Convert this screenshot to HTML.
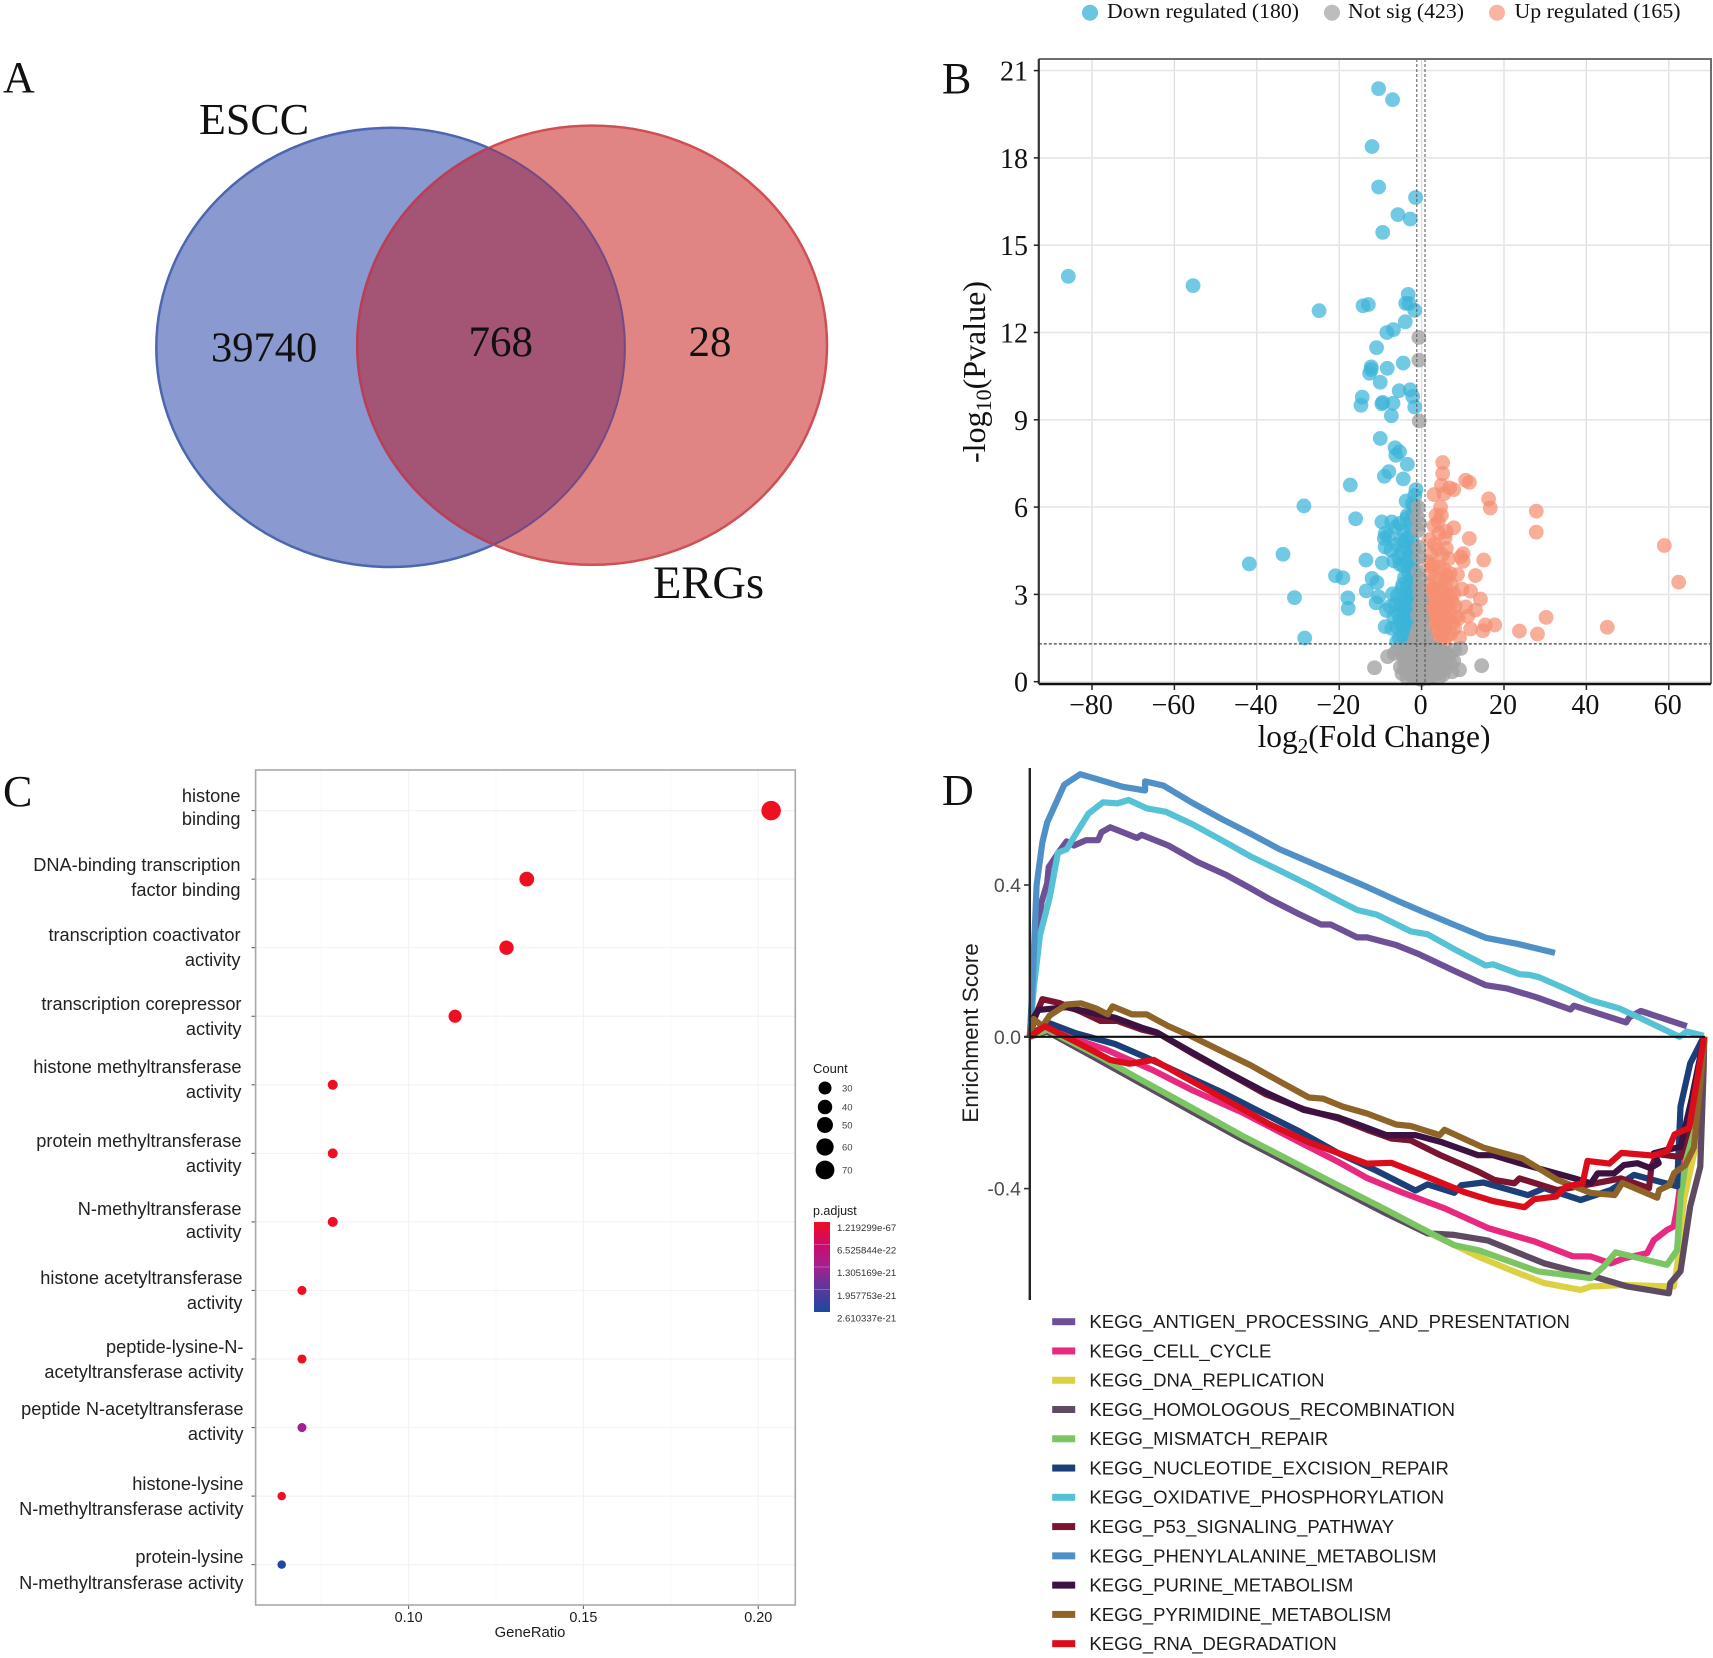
<!DOCTYPE html>
<html lang="en">
<head>
<meta charset="utf-8">
<title>ESCC ERG analysis figure</title>
<style>
html,body{margin:0;padding:0;background:#fff;width:1713px;height:1658px;overflow:hidden}
svg{display:block}
.serif{font-family:"Liberation Serif",serif;fill:#111}
.sans{font-family:"Liberation Sans",sans-serif;fill:#1c1c1c}
.panel{font-family:"Liberation Serif",serif;font-size:44px;fill:#111}
.go{font-family:"Liberation Sans",sans-serif;font-size:18.2px;fill:#222;text-anchor:end}
.lg{font-family:"Liberation Sans",sans-serif;font-size:18.5px;fill:#1c1c1c}
</style>
</head>
<body>
<svg id="figure" xmlns="http://www.w3.org/2000/svg" width="1713" height="1658" viewBox="0 0 1713 1658">
<defs>
<clipPath id="blueClip"><ellipse cx="390.6" cy="347.4" rx="234.3" ry="219.6"/></clipPath>
<clipPath id="redClip"><ellipse cx="592.1" cy="345.2" rx="234.9" ry="219.6"/></clipPath>
<linearGradient id="padjGrad" x1="0" y1="0" x2="0" y2="1">
<stop offset="0" stop-color="#ee0f21"/><stop offset="0.25" stop-color="#cf0a6b"/><stop offset="0.5" stop-color="#a3208f"/><stop offset="0.75" stop-color="#58399a"/><stop offset="1" stop-color="#1c48a1"/>
</linearGradient>
</defs>
<rect x="0" y="0" width="1713" height="1658" fill="#fff"/>

<!-- Panel A -->
<g id="panelA">
<text class="panel" x="3" y="92">A</text>
<ellipse cx="390.6" cy="347.4" rx="234.3" ry="219.6" fill="#8a99cf" stroke="#4d66b0" stroke-width="2.5"/>
<ellipse cx="592.1" cy="345.2" rx="234.9" ry="219.6" fill="#e08584" stroke="#cf4f55" stroke-width="2.5"/>
<ellipse cx="592.1" cy="345.2" rx="234.9" ry="219.6" fill="#a45474" stroke="#b83f58" stroke-width="2.5" clip-path="url(#blueClip)"/>
<ellipse cx="390.6" cy="347.4" rx="234.3" ry="219.6" fill="none" stroke="#744a86" stroke-width="2" clip-path="url(#redClip)"/>
<text class="serif" x="199" y="134" font-size="44">ESCC</text>
<text class="serif" x="653" y="598" font-size="46.5">ERGs</text>
<text class="serif" x="211" y="361.5" font-size="42.5">39740</text>
<text class="serif" x="468.5" y="356" font-size="43">768</text>
<text class="serif" x="688.5" y="356" font-size="43">28</text>
</g>

<!-- Panel B static -->
<g id="panelB">
<text class="panel" x="942" y="93">B</text>
<g id="volcanoGrid"></g>
<g id="volcanoPoints"></g>
<g id="volcanoAxes"></g>
<circle cx="1090" cy="12.7" r="8" fill="#6cc5e0"/>
<text class="serif" x="1107" y="18" font-size="21" textLength="192" lengthAdjust="spacingAndGlyphs">Down regulated (180)</text>
<circle cx="1332" cy="12.7" r="8" fill="#bdbdbd"/>
<text class="serif" x="1348" y="18" font-size="21" textLength="116" lengthAdjust="spacingAndGlyphs">Not sig (423)</text>
<circle cx="1497" cy="12.7" r="8" fill="#f9b5a2"/>
<text class="serif" x="1514.5" y="18" font-size="21" textLength="166" lengthAdjust="spacingAndGlyphs">Up regulated (165)</text>
<text class="serif" transform="translate(985,372) rotate(-90)" text-anchor="middle" font-size="32">-log<tspan font-size="22" dy="6">10</tspan><tspan dy="-6">(Pvalue)</tspan></text>
<text class="serif" x="1374" y="747" text-anchor="middle" font-size="31.4">log<tspan font-size="21" dy="6">2</tspan><tspan dy="-6">(Fold Change)</tspan></text>
</g>

<!-- Panel C static -->
<g id="panelC">
<text class="panel" x="3" y="806">C</text>
<g id="dotGrid"></g>
<rect x="255.6" y="770" width="539.7" height="835" fill="none" stroke="#a8a8a8" stroke-width="1.6"/>
<g id="dotMarks"></g>
<g>
<text class="go" x="240.5" y="802">histone</text>
<text class="go" x="240.5" y="825">binding</text>
<text class="go" x="240.5" y="871">DNA-binding transcription</text>
<text class="go" x="240.5" y="896">factor binding</text>
<text class="go" x="240.5" y="941">transcription coactivator</text>
<text class="go" x="240.5" y="966">activity</text>
<text class="go" x="241.5" y="1010">transcription corepressor</text>
<text class="go" x="241.5" y="1035">activity</text>
<text class="go" x="241.5" y="1073">histone methyltransferase</text>
<text class="go" x="241.5" y="1098">activity</text>
<text class="go" x="241.5" y="1147">protein methyltransferase</text>
<text class="go" x="241.5" y="1172">activity</text>
<text class="go" x="241.5" y="1215">N-methyltransferase</text>
<text class="go" x="241.5" y="1238">activity</text>
<text class="go" x="242.5" y="1284">histone acetyltransferase</text>
<text class="go" x="242.5" y="1309">activity</text>
<text class="go" x="243.5" y="1353">peptide-lysine-N-</text>
<text class="go" x="243.5" y="1378">acetyltransferase activity</text>
<text class="go" x="243.5" y="1415">peptide N-acetyltransferase</text>
<text class="go" x="243.5" y="1440">activity</text>
<text class="go" x="243.5" y="1490">histone-lysine</text>
<text class="go" x="243.5" y="1515">N-methyltransferase activity</text>
<text class="go" x="243.5" y="1563">protein-lysine</text>
<text class="go" x="243.5" y="1589">N-methyltransferase activity</text>
</g>
<text class="sans" x="530" y="1637" text-anchor="middle" font-size="14.8">GeneRatio</text>
<text class="sans" x="813" y="1073" font-size="13">Count</text>
<text class="sans" x="813" y="1215" font-size="12.5">p.adjust</text>
<rect x="814" y="1222" width="16" height="90" fill="url(#padjGrad)"/>
<g id="dotLegend"></g>
</g>

<!-- Panel D static -->
<g id="panelD">
<text class="panel" x="942" y="805">D</text>
<g id="gseaLines"></g>
<g id="gseaAxes"></g>
<text class="sans" transform="translate(978,1033) rotate(-90)" text-anchor="middle" font-size="22.6">Enrichment Score</text>
<g id="gseaLegend"></g>
</g>
</svg>

<script>
/* ---------- Panel B data: [log2 fold change, -log10 p] ---------- */
const volcanoXTicks = [-80, -60, -40, -20, 0, 20, 40, 60];
const volcanoYTicks = [0, 3, 6, 9, 12, 15, 18, 21];
const downPoints = [[-10.3,20.38],[-6.9,20.0],[-11.9,18.39],[-10.3,17.0],[-1.3,16.64],[-5.6,16.05],[-2.6,15.9],[-9.3,15.44],[-85.9,13.93],[-55.5,13.61],[-3.1,13.31],[-12.8,12.96],[-14.1,12.92],[-3.7,13.0],[-2.9,13.0],[-1.5,12.76],[-24.8,12.75],[-3.8,12.37],[-6.7,12.1],[-8.3,12.0],[-10.8,11.48],[-12.1,10.82],[-12.1,10.73],[-12.5,10.6],[-8.2,10.77],[-4.3,10.95],[-9.9,10.29],[-5.3,10.0],[-2.6,10.03],[-2,9.8],[-14.3,9.78],[-9.3,9.6],[-6.8,9.57],[-14.6,9.5],[-9.5,9.55],[-1.5,9.44],[-7.2,9.14],[-9.9,8.36],[-6.3,8.04],[-5.2,7.9],[-6.1,7.78],[-3.3,7.47],[-7.8,7.22],[-8.9,7.06],[-4.3,6.97],[-17.2,6.76],[-1.2,6.6],[-1.5,6.4],[-3.6,6.21],[-28.5,6.04],[-2.1,6.12],[-15.9,5.6],[-9.5,5.49],[-7.1,5.49],[-3.3,5.72],[-8.7,5.09],[-8.9,4.92],[-8.7,4.63],[-33.6,4.38],[-41.8,4.05],[-13.4,4.18],[-9.4,4.08],[-20.8,3.64],[-19,3.57],[-11.9,3.55],[-10.7,3.41],[-13.3,3.12],[-30.8,2.89],[-17.8,2.88],[-17.7,2.52],[-10.3,2.92],[-10.9,2.71],[-28.3,1.5],[-8.7,1.89],[-5.9,1.37],[-7.9,5.02],[-6.2,5.31],[-5.1,5.44],[-4.3,5.18],[-3.4,5.62],[-2.6,5.47],[-1.9,5.78],[-1.6,6.02],[-2.3,5.21],[-3.1,4.96],[-4.8,4.87],[-5.9,4.71],[-7.3,4.52],[-2.1,4.83],[-1.7,4.61],[-3.7,4.64],[-4.6,4.42],[-5.4,4.28],[-6.6,4.15],[-2.8,4.33],[-1.8,4.18],[-3.5,4.11],[-4.2,3.98],[-5.1,4.03],[-2.2,3.92],[-1.5,3.74],[-3.0,3.71],[-4.0,3.58],[-2.5,3.49],[-1.6,3.31],[-3.3,3.27],[-4.6,3.21],[-6.9,3.02],[-5.7,2.97],[-2.1,3.06],[-1.4,2.88],[-2.9,2.86],[-3.8,2.79],[-4.9,2.74],[-6.2,2.66],[-7.5,2.58],[-8.4,2.45],[-2.2,2.61],[-1.5,2.44],[-3.2,2.42],[-4.1,2.36],[-5.4,2.31],[-6.6,2.22],[-2.6,2.17],[-1.6,2.04],[-3.5,2.02],[-4.5,1.95],[-5.8,1.88],[-7.1,1.83],[-2.2,1.79],[-1.4,1.66],[-3.1,1.62],[-4.2,1.57],[-5.2,1.49],[-2.4,1.43],[-1.7,1.36],[-3.6,1.34],[-1.6,1.52],[-2.9,3.95],[-3.9,4.82],[-2.4,4.52],[-4.4,3.35],[-3.4,3.02],[-2.6,2.71],[-3.7,2.53],[-2.8,1.98],[-4.0,1.74],[-2.0,2.25],[-2.5,3.18],[-1.9,3.52],[-3.2,2.21],[-4.7,2.55],[-5.1,2.12],[-1.8,2.78]];
const upPoints = [[5.3,7.53],[5.3,7.15],[10.9,6.92],[11.8,6.85],[5,6.75],[7,6.66],[8,6.6],[3.2,6.43],[5.6,6.46],[16.5,6.28],[16.9,5.97],[28.1,5.86],[28.1,5.14],[59.3,4.68],[62.8,3.42],[4.8,6],[5,5.72],[4.2,5.49],[3.2,5.36],[8,5.29],[4.4,5.1],[6.2,5.16],[11.8,4.92],[6.2,4.58],[10.3,4.4],[9.7,4.29],[15.3,4.18],[6.8,4.23],[10.3,4.14],[8.9,3.68],[13.3,3.65],[8,3.03],[12.1,3.11],[14.5,2.84],[13.3,2.46],[10.9,2.57],[9.1,2.17],[30.5,2.21],[18,1.95],[15.7,1.95],[24,1.74],[28.4,1.64],[45.4,1.87],[15.1,1.75],[12.1,1.81],[9.4,1.52],[8.6,2.24],[2.1,4.88],[3.3,4.72],[2.4,4.41],[4.1,4.55],[5.2,4.36],[1.9,4.12],[3.0,4.02],[4.4,3.93],[5.6,3.87],[7.1,3.72],[2.2,3.71],[3.4,3.56],[4.7,3.49],[6.1,3.41],[1.8,3.36],[2.9,3.21],[4.0,3.12],[5.4,3.05],[6.7,2.98],[7.6,2.74],[1.7,2.94],[2.7,2.82],[3.8,2.77],[4.9,2.66],[6.0,2.59],[7.0,2.47],[2.0,2.55],[3.1,2.44],[4.3,2.36],[5.5,2.28],[6.6,2.16],[7.8,2.02],[2.4,2.18],[3.5,2.06],[4.7,1.98],[5.8,1.85],[2.7,1.81],[3.9,1.71],[5.1,1.62],[6.4,1.57],[3.2,1.46],[4.4,1.41],[5.7,1.36],[7.3,1.66],[8.2,1.84],[2.6,3.96],[3.7,5.72],[5.9,4.94],[4.9,3.24],[6.3,3.62],[7.4,3.34],[3.3,2.62],[2.3,3.14],[5.2,2.48],[6.2,2.74],[4.2,1.92],[3.0,2.26],[1.9,2.36],[5.9,2.02],[7.2,2.88],[8.4,2.61],[10.0,3.18],[11.4,2.25]];
const notSigPoints = [[-0.5,11.83],[-0.5,11.05],[-0.4,8.96],[-0.7,6.0],[-0.9,5.66],[-0.7,5.2],[-0.4,4.29],[-0.7,3.78],[-0.4,3.26],[-0.3,2.98],[-0.5,2.62],[-0.8,2.28],[0.1,2.05],[-0.6,1.86],[0.3,1.62],[-1.1,1.58],[-0.2,1.44],[0.8,1.38],[-1.6,1.27],[-11.3,0.48],[-8.1,0.86],[-6.5,0.97],[14.8,0.55],[9.4,0.41],[9.7,1.14],[8.2,1.09],[6.2,0.46],[4.4,0.14],[-5.0,0.5],[-3.4,0.13],[-2.2,0.2],[-4.4,0.9],[-3.1,1.15],[-2.2,1.02],[-1.2,1.12],[0.2,1.2],[1.4,1.16],[2.6,1.19],[3.7,1.14],[5.0,1.05],[6.3,0.98],[-4.0,0.62],[-2.8,0.66],[-1.6,0.78],[-0.4,0.88],[0.9,0.82],[2.1,0.86],[3.2,0.74],[4.5,0.7],[5.6,0.78],[7.1,0.62],[8.0,0.71],[-3.5,0.35],[-2.3,0.42],[-1.1,0.46],[0.1,0.5],[1.3,0.44],[2.4,0.52],[3.6,0.38],[4.8,0.34],[-1.6,0.16],[-0.6,0.22],[0.6,0.18],[1.8,0.12],[2.9,0.2],[-2.8,1.0],[-1.3,0.3],[0.0,0.08],[1.1,0.62],[-0.2,0.66],[-3.6,0.92],[2.9,0.96],[-0.9,1.0],[0.5,1.04],[4.0,0.52],[5.4,0.24],[-4.6,0.28],[3.8,0.96],[-2.0,0.58],[-0.8,0.12],[1.6,0.28],[6.8,0.88],[7.6,0.34],[-5.6,1.1],[-0.1,2.42],[0.4,2.18],[-0.9,1.72],[0.9,1.74],[0.2,2.78],[-0.2,3.52],[-0.5,4.62],[-0.3,5.42],[1.2,1.5],[-1.5,1.44]];

/* ---------- Panel C data ---------- */
const goTerms = ['histone binding','DNA-binding transcription factor binding','transcription coactivator activity','transcription corepressor activity','histone methyltransferase activity','protein methyltransferase activity','N-methyltransferase activity','histone acetyltransferase activity','peptide-lysine-N-acetyltransferase activity','peptide N-acetyltransferase activity','histone-lysine N-methyltransferase activity','protein-lysine N-methyltransferase activity'];
const geneRatios = [0.2037, 0.1338, 0.1280, 0.1133, 0.0783, 0.0783, 0.0783, 0.0695, 0.0695, 0.0695, 0.0637, 0.0637];
const goCounts = [70, 46, 44, 39, 27, 27, 27, 24, 24, 24, 22, 22];
const goPadjust = [1.22e-67, 3.2e-45, 8.1e-44, 2.4e-38, 1.1e-26, 1.1e-26, 1.4e-26, 3.3e-24, 3.3e-24, 1.3e-21, 5.2e-23, 2.61e-21];
const goXTicks = [0.10, 0.15, 0.20];
const countLegendValues = [30, 40, 50, 60, 70];
const padjustLegendLabels = ['1.219299e-67', '6.525844e-22', '1.305169e-21', '1.957753e-21', '2.610337e-21'];

/* ---------- Panel D data: [gene rank, enrichment score] ---------- */
const gseaYTicks = [0.4, 0.0, -0.4];
const gseaNames = ['KEGG_ANTIGEN_PROCESSING_AND_PRESENTATION','KEGG_CELL_CYCLE','KEGG_DNA_REPLICATION','KEGG_HOMOLOGOUS_RECOMBINATION','KEGG_MISMATCH_REPAIR','KEGG_NUCLEOTIDE_EXCISION_REPAIR','KEGG_OXIDATIVE_PHOSPHORYLATION','KEGG_P53_SIGNALING_PATHWAY','KEGG_PHENYLALANINE_METABOLISM','KEGG_PURINE_METABOLISM','KEGG_PYRIMIDINE_METABOLISM','KEGG_RNA_DEGRADATION'];
const gseaColors = ['#6d5096','#e72a7f','#dbd143','#5f4a63','#7bc562','#1b3f78','#56c2d6','#7a1431','#4f90c6','#3c1242','#8e6428','#db0d1b'];
const esAntigen = [[0,0],[6,.127],[24,.353],[36,.405],[39,.447],[61,.489],[76,.515],[91,.504],[116,.518],[141,.518],[148,.539],[166,.552],[221,.524],[231,.532],[286,.504],[346,.461],[406,.426],[456,.391],[496,.362],[556,.323],[601,.296],[621,.296],[676,.262],[696,.262],[756,.242],[801,.219],[876,.174],[941,.136],[986,.127],[1046,.104],[1116,.072],[1123,.082],[1231,.038],[1238,.052],[1261,.068],[1356,.028]];
const esCellCycle = [[0,0],[36,.019],[156,-.033],[256,-.089],[336,-.141],[436,-.198],[536,-.264],[636,-.329],[696,-.372],[766,-.409],[856,-.452],[946,-.504],[1041,-.539],[1120,-.578],[1158,-.579],[1199,-.597],[1226,-.584],[1274,-.57],[1288,-.536],[1315,-.509],[1329,-.5],[1336,-.452],[1356,-.259],[1392,0]];
const esDnaReplication = [[0,0],[36,.019],[236,-.122],[436,-.262],[636,-.392],[821,-.515],[925,-.579],[993,-.615],[1062,-.649],[1137,-.667],[1158,-.658],[1226,-.654],[1329,-.658],[1336,-.605],[1350,-.43],[1374,-.29],[1391,-.035],[1392,0]];
const esHomologous = [[0,0],[36,.014],[136,-.056],[236,-.127],[336,-.198],[436,-.268],[536,-.334],[636,-.4],[736,-.466],[821,-.518],[876,-.522],[946,-.537],[1062,-.597],[1165,-.632],[1233,-.658],[1319,-.676],[1322,-.649],[1343,-.618],[1363,-.447],[1384,-.342],[1391,-.079],[1392,0]];
const esMismatch = [[0,0],[36,.019],[136,-.047],[236,-.118],[336,-.188],[436,-.259],[536,-.325],[636,-.391],[736,-.456],[821,-.513],[876,-.549],[925,-.562],[1048,-.618],[1158,-.636],[1185,-.605],[1209,-.568],[1315,-.601],[1336,-.562],[1343,-.421],[1357,-.307],[1391,-.017],[1392,0]];
const esNucleotide = [[0,0],[36,.038],[96,.009],[176,-.019],[236,-.052],[316,-.099],[396,-.146],[476,-.198],[556,-.249],[636,-.306],[716,-.353],[796,-.405],[821,-.389],[876,-.411],[891,-.391],[936,-.384],[1028,-.417],[1062,-.399],[1137,-.43],[1199,-.404],[1247,-.364],[1336,-.394],[1343,-.184],[1363,-.07],[1391,0]];
const esOxidative = [[0,0],[8,.127],[21,.268],[41,.367],[58,.485],[76,.494],[98,.541],[121,.588],[151,.618],[181,.615],[204,.624],[241,.602],[281,.593],[336,.56],[396,.518],[456,.475],[516,.438],[576,.4],[636,.36],[676,.334],[716,.322],[786,.278],[821,.27],[876,.231],[941,.188],[956,.191],[1011,.165],[1031,.163],[1051,.157],[1096,.132],[1156,.097],[1216,.075],[1256,.052],[1341,0],[1356,.014],[1391,.003]];
const esP53 = [[0,0],[11,.052],[26,.099],[61,.089],[106,.066],[146,.042],[181,.042],[231,.019],[266,.009],[336,-.044],[416,-.101],[486,-.151],[566,-.191],[636,-.215],[696,-.245],[746,-.268],[786,-.273],[846,-.311],[925,-.355],[959,-.377],[1000,-.386],[1011,-.373],[1089,-.404],[1146,-.391],[1220,-.373],[1278,-.399],[1283,-.342],[1295,-.309],[1343,-.317],[1366,-.212],[1392,0]];
const esPhenylalanine = [[0,0],[6,.146],[14,.4],[26,.513],[36,.565],[71,.664],[104,.692],[136,.68],[191,.659],[238,.649],[238,.673],[276,.662],[336,.616],[396,.574],[456,.535],[516,.494],[576,.461],[636,.428],[696,.395],[756,.36],[816,.327],[876,.295],[941,.261],[1006,.245],[1084,.221]];
const esPurine = [[0,0],[8,.052],[18,.071],[76,.078],[136,.061],[176,.05],[231,.024],[261,.012],[336,-.042],[416,-.099],[486,-.146],[566,-.193],[636,-.212],[686,-.235],[736,-.259],[796,-.259],[851,-.278],[925,-.312],[956,-.312],[1011,-.333],[1124,-.373],[1158,-.386],[1172,-.36],[1206,-.36],[1226,-.338],[1254,-.333],[1281,-.346],[1298,-.333],[1288,-.307],[1315,-.298],[1343,-.29],[1366,-.165],[1392,0]];
const esPyrimidine = [[0,0],[8,.047],[26,.028],[41,.056],[76,.085],[106,.088],[136,.075],[161,.059],[171,.08],[211,.059],[241,.059],[286,.028],[336,0],[396,-.038],[456,-.075],[516,-.118],[576,-.16],[606,-.163],[646,-.184],[696,-.202],[756,-.231],[786,-.235],[846,-.259],[856,-.245],[936,-.292],[1016,-.32],[1089,-.377],[1157,-.411],[1207,-.417],[1223,-.385],[1295,-.424],[1299,-.404],[1320,-.391],[1330,-.359],[1353,-.338],[1371,-.291],[1392,-.016],[1392,0]];
const esRna = [[0,0],[31,.028],[96,-.014],[166,-.061],[206,-.071],[256,-.061],[336,-.118],[416,-.174],[496,-.231],[576,-.278],[636,-.306],[696,-.334],[746,-.332],[816,-.367],[896,-.409],[956,-.433],[1021,-.449],[1041,-.428],[1086,-.421],[1106,-.395],[1141,-.386],[1151,-.327],[1196,-.334],[1221,-.306],[1286,-.313],[1316,-.301],[1331,-.257],[1361,-.24],[1392,0]];

/* ---------- helpers ---------- */
const NS = 'http://www.w3.org/2000/svg';
function make(tag, attrs, parent) {
  const node = document.createElementNS(NS, tag);
  for (const k in attrs) node.setAttribute(k, attrs[k]);
  parent.appendChild(node);
  return node;
}
function byId(id) { return document.getElementById(id); }

/* ---------- Panel B ---------- */
const volX = v => 1420.9 + 4.105 * v;
const volY = v => 681.7 - 29.1 * v;
const volTickX = v => 1421.6 + 4.12 * v;
const volLeft = 1038.8, volRight = 1711, volTop = 59, volBottom = 684;
const volGrid = byId('volcanoGrid');
volcanoXTicks.forEach(t => {
  const el = make('line', {x1: volTickX(t), x2: volTickX(t), y1: volTop, y2: volBottom, stroke: '#dcdcdc', 'stroke-width': 1.2}, volGrid);
  
  
});
volcanoYTicks.forEach(t => {
  const el = make('line', {x1: volLeft, x2: volRight, y1: volY(t), y2: volY(t), stroke: '#e6e6e6', 'stroke-width': 1.6}, volGrid);
  
  
});
const volPts = byId('volcanoPoints');
downPoints.forEach(p => {
  const el = make('circle', {cx: volX(p[0]), cy: volY(p[1]), r: 7.4, fill: '#3cb4d8', 'fill-opacity': 0.72}, volPts);
  
  
});
upPoints.forEach(p => {
  const el = make('circle', {cx: volX(p[0]), cy: volY(p[1]), r: 7.4, fill: '#f58f72', 'fill-opacity': 0.72}, volPts);
  
  
});
notSigPoints.forEach(p => {
  const el = make('circle', {cx: volX(p[0]), cy: volY(p[1]), r: 7.4, fill: '#a4a4a4', 'fill-opacity': 0.8}, volPts);
  
  
});
const volAxes = byId('volcanoAxes');
[-1, 1].forEach(t => {
  const el = make('line', {x1: volX(t), x2: volX(t), y1: volTop, y2: volBottom, stroke: '#555', 'stroke-width': 1, 'stroke-dasharray': '3 2'}, volAxes);
  
  
});
const pThresh = make('line', {x1: volLeft, x2: volRight, y1: volY(1.3), y2: volY(1.3), stroke: '#444', 'stroke-width': 1.2, 'stroke-dasharray': '3 2'}, volAxes);


const volFrame = make('path', {d: 'M' + volLeft + ' ' + volTop + 'H' + volRight + 'V' + volBottom, fill: 'none', stroke: '#6e6e6e', 'stroke-width': 2}, volAxes);


const volBottomAxis = make('line', {x1: volLeft, x2: volRight, y1: volBottom, y2: volBottom, stroke: '#111', 'stroke-width': 2.6}, volAxes);


const volLeftAxis = make('line', {x1: volLeft, x2: volLeft, y1: volTop, y2: volBottom, stroke: '#333', 'stroke-width': 2.2}, volAxes);


volcanoXTicks.forEach(t => {
  const tick = make('line', {x1: volTickX(t), x2: volTickX(t), y1: volBottom, y2: volBottom + 6, stroke: '#222', 'stroke-width': 1.5}, volAxes);
  
  
  const lab = make('text', {x: volTickX(t) - 1, y: 714, 'text-anchor': 'middle', 'font-size': 28, class: 'serif'}, volAxes);
  
  
  lab.textContent = t < 0 ? '\u2212' + Math.abs(t) : String(t);
});
volcanoYTicks.forEach(t => {
  const tick = make('line', {x1: volLeft - 5, x2: volLeft, y1: volY(t), y2: volY(t), stroke: '#222', 'stroke-width': 1.5}, volAxes);
  
  
  const lab = make('text', {x: 1028, y: volY(t) + 10, 'text-anchor': 'end', 'font-size': 28, class: 'serif'}, volAxes);
  
  
  lab.textContent = String(t);
});

/* ---------- Panel C ---------- */
const goX = v => 408.6 + (v - 0.10) * 3496;
const goRow = i => 810.6 + 68.55 * i;
const dotRadius = c => 1.5 * Math.sqrt(c) - 2.8;
const legendRadius = c => 6.5 + (c - 30) * 0.0725;
const padjStops = [[238,15,33],[207,10,107],[163,32,143],[88,57,154],[28,72,161]];
function padjColor(v) {
  const t = Math.min(1, Math.max(0, v / 2.610337e-21)) * 4;
  const i = Math.min(3, Math.floor(t));
  const f = t - i;
  const a = padjStops[i], b = padjStops[i + 1];
  return 'rgb(' + [0, 1, 2].map(k => Math.round(a[k] + (b[k] - a[k]) * f)).join(',') + ')';
}
const dotGrid = byId('dotGrid');
[0.075, 0.125, 0.175].forEach(t => {
  const el = make('line', {x1: goX(t), x2: goX(t), y1: 770, y2: 1605, stroke: '#f9f9f9', 'stroke-width': 1}, dotGrid);
  
  
});
goXTicks.forEach(t => {
  const el = make('line', {x1: goX(t), x2: goX(t), y1: 770, y2: 1605, stroke: '#f3f3f3', 'stroke-width': 1.2}, dotGrid);
  
  
  const tick = make('line', {x1: goX(t), x2: goX(t), y1: 1605, y2: 1609, stroke: '#555', 'stroke-width': 1}, dotGrid);
  
  
  const lab = make('text', {x: goX(t), y: 1622, 'text-anchor': 'middle', 'font-size': 14.4, class: 'sans'}, dotGrid);
  
  
  lab.textContent = t.toFixed(2);
});
goTerms.forEach((term, i) => {
  const el = make('line', {x1: 255.6, x2: 795.3, y1: goRow(i), y2: goRow(i), stroke: '#f3f3f3', 'stroke-width': 1.2}, dotGrid);
  
  
  const tick = make('line', {x1: 251.5, x2: 255.6, y1: goRow(i), y2: goRow(i), stroke: '#555', 'stroke-width': 1}, dotGrid);
  
  
});
const dotMarks = byId('dotMarks');
goTerms.forEach((term, i) => {
  const el = make('circle', {cx: goX(geneRatios[i]), cy: goRow(i), r: dotRadius(goCounts[i]), fill: padjColor(goPadjust[i])}, dotMarks);
  
  
  const tip = make('title', {}, el);
  tip.textContent = term;
});
const dotLegend = byId('dotLegend');
const legendTop = 1088;
countLegendValues.forEach((c, i) => {
  const cy = legendTop + [0, 19, 37, 59, 82][i];
  const el = make('circle', {cx: 825, cy: cy, r: legendRadius(c), fill: '#000'}, dotLegend);
  
  
  const lab = make('text', {x: 842, y: cy + 3.5, 'font-size': 9.5, fill: '#444', 'font-family': '"Liberation Sans",sans-serif'}, dotLegend);
  
  
  lab.textContent = String(c);
});
padjustLegendLabels.forEach((txt, i) => {
  const y = 1231 + i * 22.6;
  const lab = make('text', {x: 837, y: y, 'font-size': 9.6, fill: '#333', 'font-family': '"Liberation Sans",sans-serif'}, dotLegend);
  
  
  lab.textContent = txt;
  if (i > 0 && i < 4) {
    const tick = make('line', {x1: 814, x2: 830, y1: 1222 + i * 22.5, y2: 1222 + i * 22.5, stroke: '#fff', 'stroke-width': 0.7, 'stroke-opacity': 0.35}, dotLegend);
    
    
  }
});

/* ---------- Panel D ---------- */
const gseaX = r => 1029.8 + r * 0.4845;
const gseaY = v => 1036.8 - 379.5 * v;
const gseaSeries = [esAntigen, esCellCycle, esDnaReplication, esHomologous, esMismatch, esNucleotide, esOxidative, esP53, esPhenylalanine, esPurine, esPyrimidine, esRna];
const gseaLines = byId('gseaLines');
gseaSeries.forEach((series, i) => {
  const d = series.map((p, j) => (j ? 'L' : 'M') + gseaX(p[0]).toFixed(1) + ' ' + gseaY(p[1]).toFixed(1)).join('');
  const el = make('path', {d: d, fill: 'none', stroke: gseaColors[i], 'stroke-width': 6.2, 'stroke-linejoin': 'round'}, gseaLines);
  
  
});
const gseaAxes = byId('gseaAxes');
const gseaYAxis = make('line', {x1: 1029.8, x2: 1029.8, y1: 768, y2: 1300, stroke: '#222', 'stroke-width': 2.4}, gseaAxes);


const gseaZero = make('line', {x1: 1024, x2: 1705, y1: gseaY(0), y2: gseaY(0), stroke: '#111', 'stroke-width': 2.2}, gseaAxes);


gseaYTicks.forEach(t => {
  const tick = make('line', {x1: 1024, x2: 1029.8, y1: gseaY(t), y2: gseaY(t), stroke: '#333', 'stroke-width': 1.6}, gseaAxes);
  
  
  const lab = make('text', {x: 1021, y: gseaY(t) + 7, 'text-anchor': 'end', 'font-size': 19.5, fill: '#4d4d4d', 'font-family': '"Liberation Sans",sans-serif'}, gseaAxes);
  
  
  lab.textContent = t < 0 ? '-' + Math.abs(t).toFixed(1) : t.toFixed(1);
});
const gseaLegend = byId('gseaLegend');
gseaNames.forEach((name, i) => {
  const y = 1321.7 + i * 29.27;
  const sw = make('rect', {x: 1052.2, y: y - 3.5, width: 23, height: 7, fill: gseaColors[i]}, gseaLegend);
  
  
  const lab = make('text', {x: 1089.4, y: y + 6.4, class: 'lg'}, gseaLegend);
  
  
  lab.textContent = name;
});
</script>
</body>
</html>
